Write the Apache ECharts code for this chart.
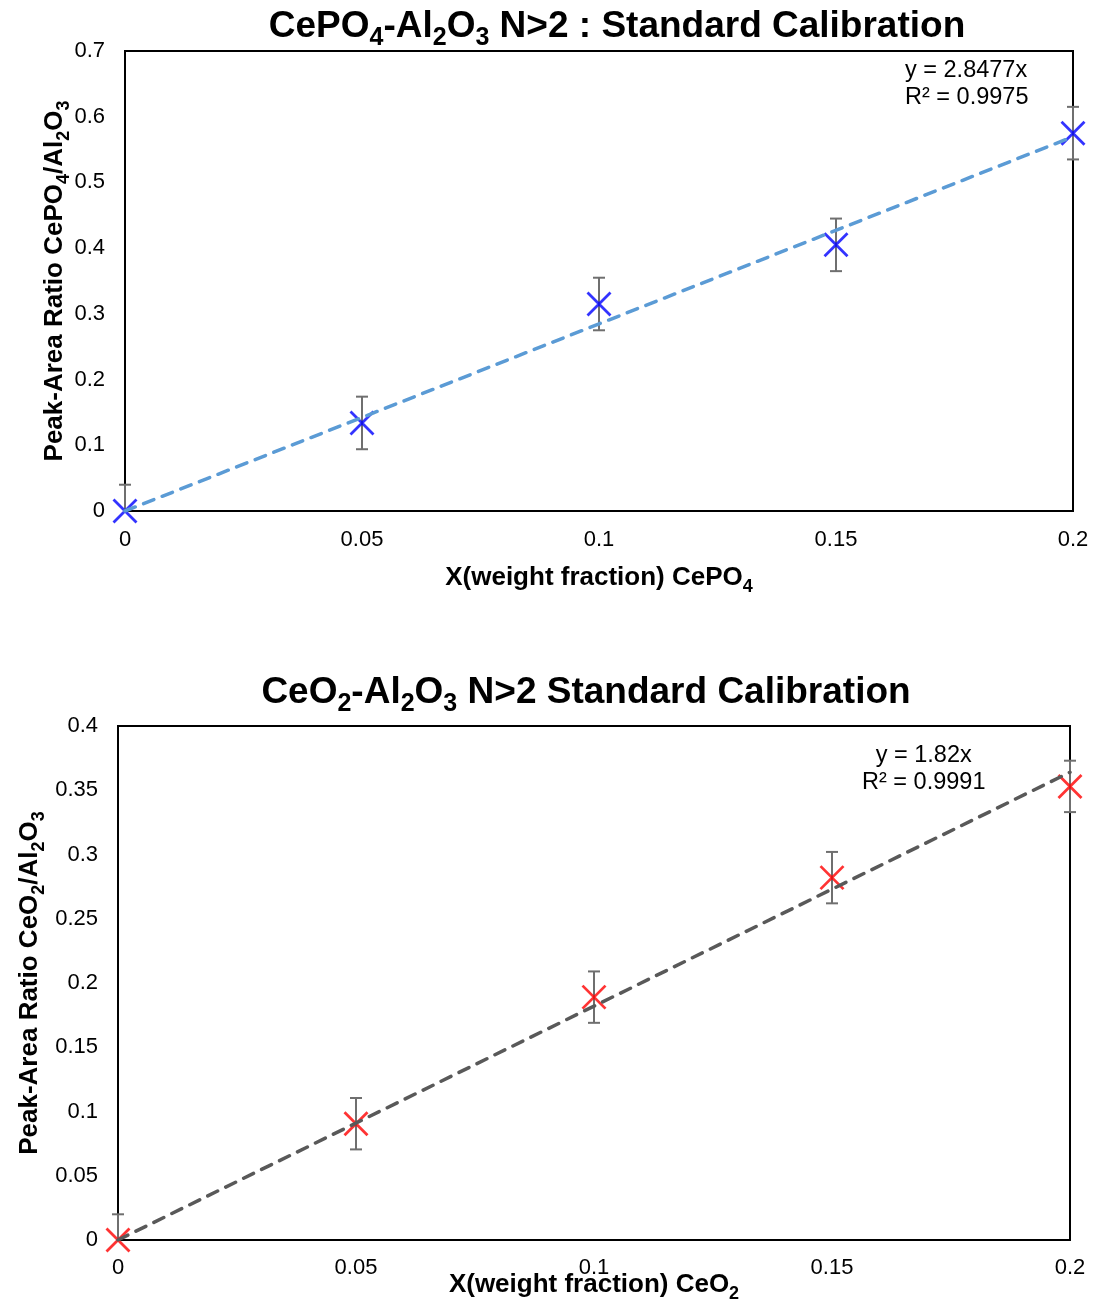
<!DOCTYPE html>
<html>
<head>
<meta charset="utf-8">
<script src="https://cdn.jsdelivr.net/npm/echarts@6/dist/echarts.min.js"></script>
<style>
html,body{margin:0;padding:0;background:#fff;}
#chart{width:1096px;height:1305px;}
</style>
</head>
<body>
<div id="chart"></div>
<script>
// ---- Data (top chart: CePO4) ----
const xTop = [0, 0.05, 0.1, 0.15, 0.2];
const yTop = [0, 0.134, 0.315, 0.405, 0.575];
const errTop = [0.04, 0.04, 0.04, 0.04, 0.04];
const trendXTop = [0, 0.2];
const trendYTop = [0, 0.56954];
const eqTop = ['y = 2.8477x', 'R² = 0.9975'];

// ---- Data (bottom chart: CeO2) ----
const xBot = [0, 0.05, 0.1, 0.15, 0.2];
const yBot = [0, 0.0905, 0.189, 0.282, 0.353];
const errBot = [0.02, 0.02, 0.02, 0.02, 0.02];
const trendXBot = [0, 0.2];
const trendYBot = [0, 0.364];
const eqBot = ['y = 1.82x', 'R² = 0.9991'];

const FONT = '"Liberation Sans", Arial, sans-serif';

function richSet(big, small, weight, drop) {
  return {
    n: {fontSize: big, fontWeight: weight, fontFamily: FONT, color: '#000', lineHeight: big + drop, verticalAlign: 'middle'},
    s: {fontSize: small, fontWeight: weight, fontFamily: FONT, color: '#000', lineHeight: small, verticalAlign: 'bottom'}
  };
}

function errSeries(xs, ys, es, xi, yi) {
  return {
    type: 'custom', xAxisIndex: xi, yAxisIndex: yi, clip: false, z: 2,
    data: xs.map((x, i) => [x, ys[i], es[i]]),
    renderItem: function (params, api) {
      const x = api.value(0), y = api.value(1), e = api.value(2);
      const top = api.coord([x, y + e]);
      const bot = api.coord([x, Math.max(0, y - e)]);
      const botRaw = api.coord([x, y - e]);
      const style = {stroke: '#6f6f6f', lineWidth: 2};
      const children = [
        {type: 'line', shape: {x1: top[0], y1: top[1], x2: bot[0], y2: bot[1]}, style: style},
        {type: 'line', shape: {x1: top[0] - 6, y1: top[1], x2: top[0] + 6, y2: top[1]}, style: style}
      ];
      if (y - e >= 0) {
        children.push({type: 'line', shape: {x1: botRaw[0] - 6, y1: botRaw[1], x2: botRaw[0] + 6, y2: botRaw[1]}, style: style});
      }
      return {type: 'group', children: children};
    }
  };
}

function markerSeries(xs, ys, color, xi, yi) {
  return {
    type: 'scatter', xAxisIndex: xi, yAxisIndex: yi, clip: false, z: 3,
    symbol: 'path://M0,0L10,10M10,0L0,10',
    symbolSize: 23,
    itemStyle: {color: 'rgba(0,0,0,0)', borderColor: color, borderWidth: 2.8},
    data: xs.map((x, i) => [x, ys[i]])
  };
}

function trendSeries(xs, ys, color, xi, yi) {
  return {
    type: 'line', xAxisIndex: xi, yAxisIndex: yi, z: 4, symbol: 'none', silent: true,
    lineStyle: {color: color, width: 3.5, type: [11, 9], cap: 'round'},
    data: xs.map((x, i) => [x, ys[i]])
  };
}

function xAxisCfg(gi, nameRich, gap, labelMargin) {
  return {
    type: 'value', gridIndex: gi, min: 0, max: 0.2, interval: 0.05,
    axisLine: {show: true, lineStyle: {color: '#000', width: 2}},
    axisTick: {show: false}, splitLine: {show: false},
    axisLabel: {fontSize: 22, color: '#000', fontFamily: FONT, margin: labelMargin},
    name: nameRich, nameLocation: 'middle', nameGap: gap, nameMoveOverlap: false,
    nameTextStyle: {rich: richSet(26, 18, 'bold', 10)}
  };
}

function yAxisCfg(gi, max, interval, nameRich, gap) {
  return {
    type: 'value', gridIndex: gi, min: 0, max: max, interval: interval,
    axisLine: {show: true, lineStyle: {color: '#000', width: 2}},
    axisTick: {show: false}, splitLine: {show: false},
    axisLabel: {fontSize: 22, color: '#000', fontFamily: FONT, margin: 20},
    name: nameRich, nameLocation: 'middle', nameGap: gap, nameRotate: 90, nameMoveOverlap: false,
    nameTextStyle: {rich: richSet(26, 18, 'bold', 10)}
  };
}

const chart = echarts.init(document.getElementById('chart'), null, {renderer: 'canvas'});
chart.setOption({
  backgroundColor: '#fff',
  animation: false,
  title: [
    {
      text: '{n|CePO}{s|4}{n|-Al}{s|2}{n|O}{s|3}{n| N>2 : Standard Calibration}',
      left: 612, top: -3, textAlign: 'center',
      textStyle: {rich: richSet(37, 25, 'bold', 12)}
    },
    {
      text: '{n|CeO}{s|2}{n|-Al}{s|2}{n|O}{s|3}{n| N>2 Standard Calibration}',
      left: 581, top: 663, textAlign: 'center',
      textStyle: {rich: richSet(37, 25, 'bold', 12)}
    }
  ],
  grid: [
    {left: 125, right: 23, top: 51, height: 460, show: true, borderColor: '#000', borderWidth: 2, backgroundColor: 'transparent', containLabel: false, outerBoundsMode: 'none'},
    {left: 118, right: 26, top: 726, height: 514, show: true, borderColor: '#000', borderWidth: 2, backgroundColor: 'transparent', containLabel: false, outerBoundsMode: 'none'}
  ],
  xAxis: [
    xAxisCfg(0, '{n|X(weight fraction) CePO}{s|4}', 49, 18),
    xAxisCfg(1, '{n|X(weight fraction) CeO}{s|2}', 27, 17)
  ],
  yAxis: [
    yAxisCfg(0, 0.7, 0.1, '{n|Peak-Area Ratio CePO}{s|4}{n|/Al}{s|2}{n|O}{s|3}', 52),
    yAxisCfg(1, 0.4, 0.05, '{n|Peak-Area Ratio CeO}{s|2}{n|/Al}{s|2}{n|O}{s|3}', 70)
  ],
  series: [
    errSeries(xTop, yTop, errTop, 0, 0),
    markerSeries(xTop, yTop, '#0000ff', 0, 0),
    trendSeries(trendXTop, trendYTop, '#5b9bd5', 0, 0),
    errSeries(xBot, yBot, errBot, 1, 1),
    markerSeries(xBot, yBot, '#ff0000', 1, 1),
    trendSeries(trendXBot, trendYBot, '#595959', 1, 1)
  ],
  graphic: [
    {type: 'text', left: 905, top: 57, style: {text: eqTop[0] + '\n' + eqTop[1], font: '23.5px ' + FONT, fill: '#000', lineHeight: 27, textAlign: 'left'}},
    {type: 'text', left: 862, top: 742, style: {text: eqBot[0] + '\n' + eqBot[1], font: '23.5px ' + FONT, fill: '#000', lineHeight: 27, textAlign: 'center'}}
  ]
});
</script>
</body>
</html>
